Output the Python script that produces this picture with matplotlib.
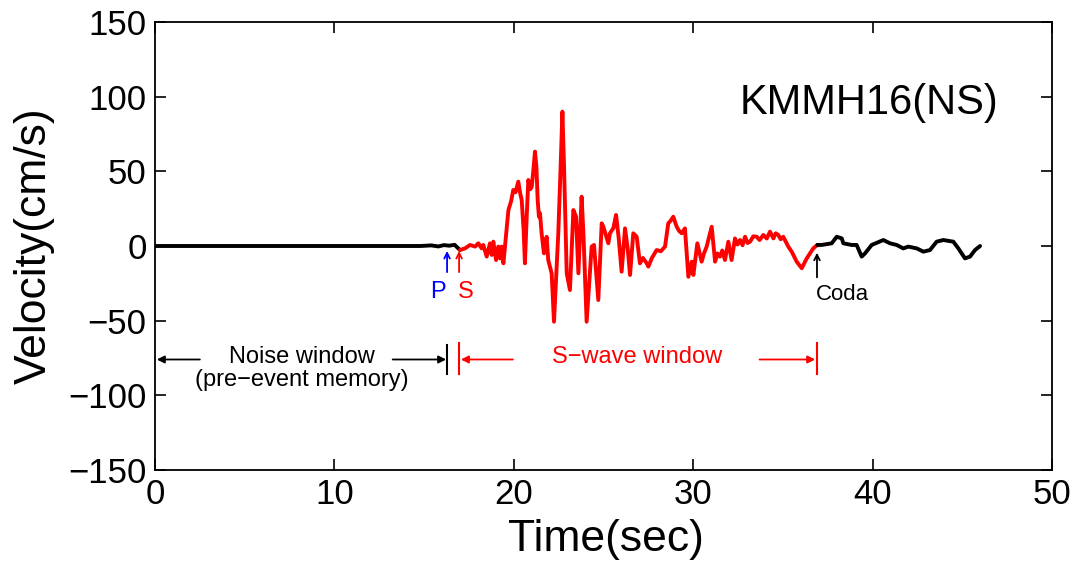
import matplotlib
matplotlib.use("Agg")
import matplotlib.pyplot as plt
import numpy as np

plt.rcParams['font.family'] = ['Liberation Sans', 'DejaVu Sans']

# Velocity trace (NS component), split into the three phases
pre_t = [0.0, 14.8, 15.4, 15.8, 16.1, 16.4, 16.7, 17.0]
pre_v = [0.0, 0.0, 0.4, -0.3, 0.6, 0.2, 0.8, -2.7]

swave_t = [17.00, 17.28, 17.56, 17.84, 18.02, 18.21, 18.30, 18.49, 18.67, 18.77,
           18.86, 19.01, 19.14, 19.23, 19.32, 19.42, 19.55, 19.70, 19.85, 19.97,
           20.10, 20.25, 20.36, 20.44, 20.55, 20.62, 20.72, 20.81, 20.92, 21.00,
           21.10, 21.18, 21.26, 21.33, 21.40, 21.46, 21.55, 21.68, 21.83, 21.92,
           22.11, 22.24, 22.48, 22.61, 22.71, 22.80, 22.95, 23.13, 23.32, 23.47,
           23.60, 23.78, 23.88, 24.06, 24.34, 24.47, 24.71, 24.90, 24.99, 25.27,
           25.36, 25.55, 25.70, 25.85, 26.01, 26.20, 26.35, 26.48, 26.66, 26.85,
           27.03, 27.20, 27.41, 27.50, 27.70, 27.96, 28.20, 28.43, 28.61, 28.75,
           28.89, 29.08, 29.22, 29.36, 29.54, 29.73, 29.92, 30.01, 30.23, 30.47,
           30.60, 30.75, 31.03, 31.22, 31.35, 31.49, 31.62, 31.77, 31.96, 32.14,
           32.33, 32.47, 32.61, 32.75, 32.89, 33.03, 33.17, 33.35, 33.54, 33.70,
           33.91, 34.10, 34.28, 34.47, 34.60, 34.74, 34.88, 35.02, 35.30, 35.49,
           35.77, 36.05, 36.33, 36.69, 36.92]
swave_v = [-2.7, -1.6, 0.7, -0.4, 1.8, -1.6, 0.7, -7.1, 1.8, -6.0,
           2.9, -9.4, -0.4, -8.3, -0.4, -11.6, 5.0, 24.1, 30.0, 37.5,
           36.0, 43.1, 35.0, 30.8, 10.0, -11.6, 20.0, 44.2, 38.0, 39.7,
           52.0, 63.2, 53.0, 31.0, 19.6, 21.9, 8.5, -4.9, 6.2, -9.4,
           -18.3, -50.7, 8.5, 53.1, 90.0, 53.1, -18.3, -29.5, 24.1, 19.6,
           -18.3, 33.0, 8.5, -50.7, -0.4, 0.7, -36.2, 15.2, 13.0, 1.8,
           8.5, 12.0, 20.8, 5.0, -17.2, 11.8, -2.0, -19.4, 8.5, 6.2,
           -11.6, -8.0, -11.6, -13.8, -8.0, -2.7, -3.5, -0.4, 15.2, 17.0,
           19.6, 12.9, 10.0, 8.5, 11.8, -20.6, -10.5, -19.4, 1.8, -10.5,
           -5.0, -0.4, 12.9, -10.5, -5.0, -7.1, -3.0, -9.4, 2.9, -9.4,
           5.1, 1.0, 4.0, 0.5, 6.2, 2.0, 2.9, 6.5, 6.2, 4.0,
           7.4, 5.0, 9.6, 5.1, 8.5, 7.4, 4.5, 6.2, -0.4, -3.8,
           -10.5, -14.9, -8.3, -1.6, 0.7]

coda_t = [36.92, 37.16, 37.72, 38.00, 38.28, 38.37, 38.83, 39.11, 39.39, 39.58,
          39.95, 40.60, 40.97, 41.34, 41.71, 41.99, 42.46, 42.83, 43.20, 43.57,
          43.94, 44.50, 44.78, 45.15, 45.43, 45.71, 45.99]
coda_v = [0.7, 0.7, 1.8, 6.2, 5.1, 1.8, 0.7, 0.7, -7.1, -4.9,
          0.7, 4.0, 1.8, 0.7, -1.6, -0.4, -1.6, -3.8, -2.7, 2.9,
          4.0, 2.9, -1.6, -8.3, -7.1, -2.7, 0.0]

# Phase picks and window limits (sec)
p_pick = 16.28
s_pick = 16.95
coda_pick = 36.9

x_ticks = [0, 10, 20, 30, 40, 50]
y_ticks = [-150, -100, -50, 0, 50, 100, 150]

fig = plt.figure(figsize=(10.79, 5.62), dpi=100)
ax = fig.add_axes([155 / 1079, 1 - 470 / 562, 897 / 1079, 448 / 562])

trace_kw = dict(lw=2.8, solid_joinstyle='round', solid_capstyle='round')
ax.plot(pre_t, pre_v, color='black', **trace_kw)
ax.plot(swave_t, swave_v, color='red', **trace_kw)
ax.plot(coda_t, coda_v, color='black', **trace_kw)

ax.set_xlim(0, 50)
ax.set_ylim(-150, 150)
ax.set_xticks(x_ticks)
ax.set_yticks(y_ticks)
ax.tick_params(direction='in', length=8, width=1.2, top=True, right=True,
               labelsize=25, pad=6)
for s in ax.spines.values():
    s.set_linewidth(1.3)

ax.set_xlabel('Time(sec)', fontsize=32)
ax.xaxis.set_label_coords(0.503, -0.155)
ax.xaxis.label.set_va('center')
ax.set_ylabel('Velocity(cm/s)', fontsize=32)
ax.yaxis.set_label_coords(-0.135, 0.5)
ax.yaxis.label.set_va('center')

ax.text(32.6, 95.8, 'KMMH16(NS)', fontsize=30, ha='left', va='center')

# Phase arrows
small = dict(arrowstyle='->', lw=1.3, mutation_scale=10, shrinkA=0, shrinkB=0)
ax.annotate('', xy=(p_pick, -3.3), xytext=(p_pick, -17.5),
            arrowprops=dict(small, color='blue'))
ax.text(p_pick - 0.5, -31, 'P', color='blue', fontsize=17, ha='center', va='center')
ax.annotate('', xy=(s_pick, -3.3), xytext=(s_pick, -17.5),
            arrowprops=dict(small, color='red'))
ax.text(s_pick + 0.4, -31, 'S', color='red', fontsize=17, ha='center', va='center')
ax.annotate('', xy=(coda_pick, -4.5), xytext=(coda_pick, -21),
            arrowprops=dict(small, color='black'))
ax.text(coda_pick - 0.05, -32.5, 'Coda', color='black', fontsize=16, ha='left', va='center')

# Noise window
win_y = -76
head = dict(arrowstyle='-|>', lw=1.3, mutation_scale=11, shrinkA=0, shrinkB=0)
ax.annotate('', xy=(0.1, win_y), xytext=(2.5, win_y), arrowprops=dict(head, color='black'))
ax.annotate('', xy=(p_pick - 0.05, win_y), xytext=(13.25, win_y),
            arrowprops=dict(head, color='black'))
ax.plot([p_pick, p_pick], [-66, -86], color='black', lw=1.5)
ax.text(8.2, -74.5, 'Noise window', fontsize=17, ha='center', va='center')
ax.text(8.2, -90, '(pre\u2212event memory)', fontsize=17, ha='center', va='center')

# S-wave window
ax.annotate('', xy=(s_pick + 0.1, win_y), xytext=(19.95, win_y),
            arrowprops=dict(head, color='red'))
ax.annotate('', xy=(coda_pick - 0.1, win_y), xytext=(33.7, win_y),
            arrowprops=dict(head, color='red'))
ax.plot([s_pick, s_pick], [-65, -86], color='red', lw=1.5)
ax.plot([coda_pick, coda_pick], [-65, -86], color='red', lw=1.5)
ax.text(26.87, -74.5, 'S\u2212wave window', fontsize=17, color='red',
        ha='center', va='center')

fig.savefig('out.png', dpi=100)
